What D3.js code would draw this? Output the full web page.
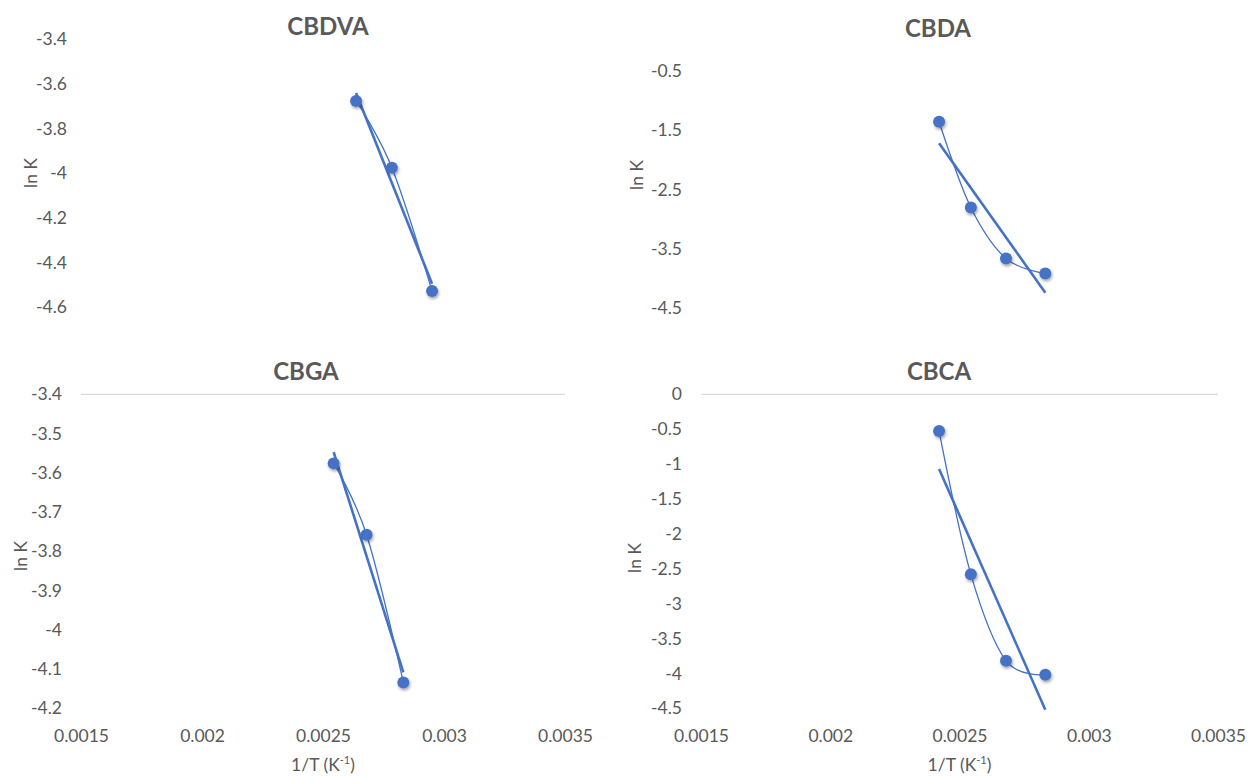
<!DOCTYPE html>
<html lang="en">
<head>
<meta charset="utf-8">
<script src="https://cdn.jsdelivr.net/npm/d3@7/dist/d3.min.js"></script>
<style>
  body { margin: 0; background: #fff; }
  .tick text { font-family: Lato, "Open Sans", sans-serif; font-size: 17.5px; fill: #595959; }
  .title { font-family: Lato, "Open Sans", sans-serif; font-size: 24px; font-weight: bold; fill: #595959; }
  .axtitle { font-family: Lato, "Open Sans", sans-serif; font-size: 17.5px; fill: #595959; }
</style>
</head>
<body>
<script>
// 1/T values (K^-1) for 140, 120, 100, 80 °C and the CBDVA run
var invT4 = [0.002421, 0.002544, 0.002680, 0.002832];
var invT3 = [0.002544, 0.002680, 0.002832];
var invTcbdva = [0.002616, 0.002764, 0.002930];

// ln K
var lnKcbdva = [-3.676, -3.975, -4.527];
var lnKcbda = [-1.359, -2.803, -3.662, -3.914];
var lnKcbga = [-3.576, -3.758, -4.134];
var lnKcbca = [-0.526, -2.580, -3.818, -4.018];

// tick labels
var xTicks = [0.0015, 0.002, 0.0025, 0.003, 0.0035];
var yTicksCbdva = [-3.4, -3.6, -3.8, -4, -4.2, -4.4, -4.6];
var yTicksCbda = [-0.5, -1.5, -2.5, -3.5, -4.5];
var yTicksCbga = [-3.4, -3.5, -3.6, -3.7, -3.8, -3.9, -4, -4.1, -4.2];
var yTicksCbca = [0, -0.5, -1, -1.5, -2, -2.5, -3, -3.5, -4, -4.5];

var blue = "#4472C4";

// panel layout (the two top charts are partly covered, so no x axis there)
var panels = [
  {name: "CBDVA", xs: invTcbdva, ys: lnKcbdva, yt: yTicksCbdva, x0: 86, x1: 570, top: 39.3, bot: 307.3,
   tx: 328, ty: 35, lx: 30, ly: 173, xaxis: false},
  {name: "CBDA", xs: invT4, ys: lnKcbda, yt: yTicksCbda, x0: 701, x1: 1218, top: 70.7, bot: 308.3,
   tx: 938, ty: 37, lx: 636, ly: 175, xaxis: false},
  {name: "CBGA", xs: invT3, ys: lnKcbga, yt: yTicksCbga, x0: 81, x1: 565, top: 394.3, bot: 708.3,
   tx: 306, ty: 380, lx: 20, ly: 556, xaxis: true},
  {name: "CBCA", xs: invT4, ys: lnKcbca, yt: yTicksCbca, x0: 701, x1: 1218, top: 394.3, bot: 708.3,
   tx: 939, ty: 380, lx: 634, ly: 558, xaxis: true}
];

var svg = d3.select("body").append("svg")
  .attr("width", 1250)
  .attr("height", 776);

var defs = svg.append("defs");
defs.append("filter").attr("id", "shadow")
  .attr("x", "-50%").attr("y", "-50%").attr("width", "200%").attr("height", "200%")
  .append("feDropShadow")
  .attr("dx", 1).attr("dy", 2).attr("stdDeviation", 1.6)
  .attr("flood-color", "#000").attr("flood-opacity", 0.35);

panels.forEach(function(p) {
  var g = svg.append("g");

  var x = d3.scaleLinear().domain([0.0015, 0.0035]).range([p.x0, p.x1]);
  var y = d3.scaleLinear().domain([p.yt[0], p.yt[p.yt.length - 1]]).range([p.top, p.bot]);

  // light line at the top value (horizontal axis crossing) on the lower charts
  if (p.xaxis) {
    g.append("line")
      .attr("x1", x(0.0015)).attr("x2", x(0.0035))
      .attr("y1", y(p.yt[0])).attr("y2", y(p.yt[0]))
      .attr("stroke", "#d9d9d9").attr("stroke-width", 1.2);
  }

  // y axis labels
  var yAxis = d3.axisLeft(y).tickValues(p.yt).tickSize(0).tickPadding(19)
    .tickFormat(function(d) { return String(d); });
  g.append("g")
    .attr("transform", "translate(" + p.x0 + ",0)")
    .call(yAxis)
    .call(function(a) { a.select(".domain").remove(); });

  if (p.xaxis) {
    var xAxis = d3.axisBottom(x).tickValues(xTicks).tickSize(0).tickPadding(21)
      .tickFormat(function(d) { return String(d); });
    g.append("g")
      .attr("transform", "translate(0," + p.bot + ")")
      .call(xAxis)
      .call(function(a) { a.select(".domain").remove(); });

    var t = g.append("text").attr("class", "axtitle")
      .attr("x", (p.x0 + p.x1) / 2).attr("y", 771)
      .attr("text-anchor", "middle");
    t.append("tspan").text("1/T (K");
    t.append("tspan").attr("font-size", "11px").attr("dy", -7).text("-1");
    t.append("tspan").attr("dy", 7).text(")");
  }

  // titles
  g.append("text").attr("class", "title")
    .attr("x", p.tx).attr("y", p.ty)
    .attr("text-anchor", "middle")
    .text(p.name);

  g.append("text").attr("class", "axtitle")
    .attr("transform", "translate(" + p.lx + "," + p.ly + ") rotate(-90)")
    .attr("text-anchor", "middle")
    .attr("dominant-baseline", "central")
    .text("ln K");

  var pts = p.xs.map(function(d, i) { return [d, p.ys[i]]; });

  // linear trend line (least squares) from min to max x
  var mx = d3.mean(p.xs), my = d3.mean(p.ys);
  var sxy = d3.sum(pts, function(d) { return (d[0] - mx) * (d[1] - my); });
  var sxx = d3.sum(pts, function(d) { return (d[0] - mx) * (d[0] - mx); });
  var slope = sxy / sxx, icpt = my - slope * mx;
  var ext = d3.extent(p.xs);
  g.append("line")
    .attr("x1", x(ext[0])).attr("y1", y(icpt + slope * ext[0]))
    .attr("x2", x(ext[1])).attr("y2", y(icpt + slope * ext[1]))
    .attr("stroke", blue).attr("stroke-width", 2.6);

  // smoothed series line
  var line = d3.line()
    .x(function(d) { return x(d[0]); })
    .y(function(d) { return y(d[1]); })
    .curve(d3.curveCardinal.tension(0));
  g.append("path")
    .datum(pts)
    .attr("d", line)
    .attr("fill", "none")
    .attr("stroke", blue)
    .attr("stroke-width", 1.3);

  g.selectAll("circle")
    .data(pts)
    .enter()
    .append("circle")
    .attr("cx", function(d) { return x(d[0]); })
    .attr("cy", function(d) { return y(d[1]); })
    .attr("r", 6)
    .attr("fill", blue)
    .attr("filter", "url(#shadow)");
});
</script>
</body>
</html>
